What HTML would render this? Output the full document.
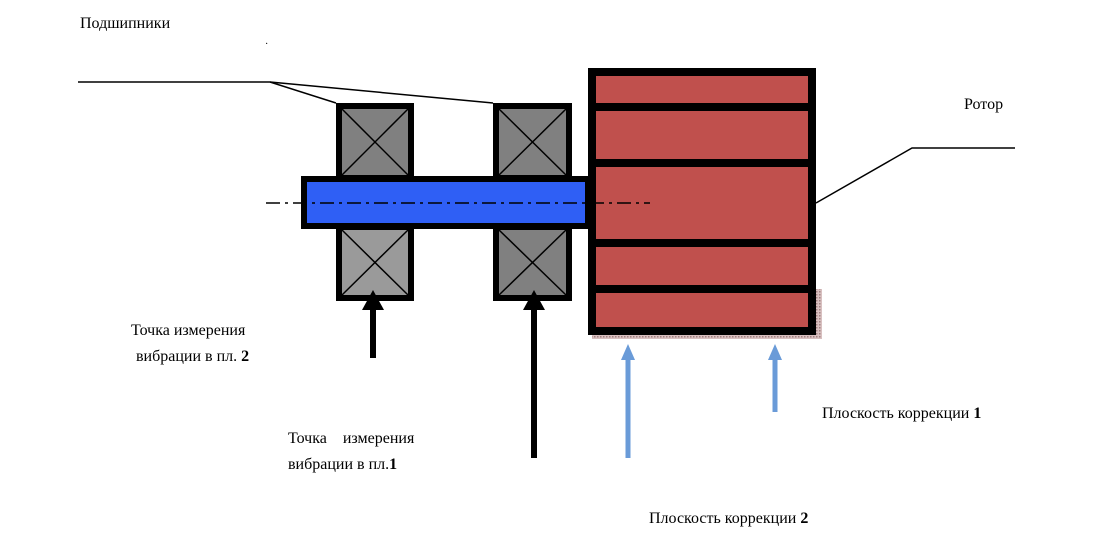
<!DOCTYPE html>
<html><head><meta charset="utf-8"><style>
html,body{margin:0;padding:0;background:#fff;}
svg text{font-family:"Liberation Serif",serif;font-size:16px;fill:#000;}
</style></head><body>
<svg width="1114" height="550" viewBox="0 0 1114 550" xmlns="http://www.w3.org/2000/svg">
<defs>
<pattern id="h" width="3" height="3" patternUnits="userSpaceOnUse"><rect width="3" height="3" fill="#d8c0c0"/><rect width="1.5" height="1.5" fill="#a08080"/></pattern>
</defs>
<!-- leaders -->
<polyline points="78,82 270,82 336,103" fill="none" stroke="#000" stroke-width="1.5"/>
<line x1="270" y1="82" x2="493" y2="103" stroke="#000" stroke-width="1.5"/>
<polyline points="816,203 912,148 1015,148" fill="none" stroke="#000" stroke-width="1.5"/>
<text x="80" y="28">Подшипники</text>
<text x="964" y="109">Ротор</text>
<!-- rotor shadow -->
<rect x="592" y="289" width="230" height="50" fill="url(#h)"/>
<!-- rotor -->
<rect x="592" y="72" width="220" height="259" fill="#c0504d" stroke="#000" stroke-width="8"/>
<g stroke="#000" stroke-width="8">
<line x1="592" y1="107" x2="812" y2="107"/>
<line x1="592" y1="163" x2="812" y2="163"/>
<line x1="592" y1="243" x2="812" y2="243"/>
<line x1="592" y1="289" x2="812" y2="289"/>
</g>
<!-- bearings -->
<g stroke="#000" stroke-width="6">
<rect x="339" y="106" width="72" height="72" fill="#808080"/>
<rect x="339" y="227" width="72" height="71" fill="#9a9a9a"/>
<rect x="496" y="106" width="73" height="72" fill="#808080"/>
<rect x="496" y="227" width="73" height="71" fill="#808080"/>
</g>
<g stroke="#000" stroke-width="1.5">
<line x1="342" y1="109" x2="408" y2="175"/><line x1="408" y1="109" x2="342" y2="175"/>
<line x1="342" y1="230" x2="408" y2="295"/><line x1="408" y1="230" x2="342" y2="295"/>
<line x1="499" y1="109" x2="566" y2="175"/><line x1="566" y1="109" x2="499" y2="175"/>
<line x1="499" y1="230" x2="566" y2="295"/><line x1="566" y1="230" x2="499" y2="295"/>
</g>
<!-- shaft -->
<rect x="304" y="179" width="284" height="47" fill="#2f5ff5" stroke="#000" stroke-width="6"/>
<line x1="266" y1="203" x2="650" y2="203" stroke="#000" stroke-width="1.5" stroke-dasharray="14,5,3,5"/>
<!-- black arrows -->
<line x1="373" y1="305" x2="373" y2="358" stroke="#000" stroke-width="6"/>
<polygon points="373,290 362,310 384,310" fill="#000"/>
<line x1="534" y1="305" x2="534" y2="458" stroke="#000" stroke-width="6"/>
<polygon points="534,290 523,310 545,310" fill="#000"/>
<!-- blue arrows -->
<line x1="628" y1="357" x2="628" y2="458" stroke="#6a9bd8" stroke-width="5"/>
<polygon points="628,344 621,360 635,360" fill="#6a9bd8"/>
<line x1="775" y1="357" x2="775" y2="412" stroke="#6a9bd8" stroke-width="5"/>
<polygon points="775,344 768,360 782,360" fill="#6a9bd8"/>
<!-- labels -->
<text x="131" y="335">Точка измерения</text>
<text x="136" y="361">вибрации в пл. <tspan font-weight="bold">2</tspan></text>
<text x="288" y="443">Точка&#160;&#160;&#160; измерения</text>
<text x="288" y="469">вибрации в пл.<tspan font-weight="bold">1</tspan></text>
<text x="822" y="418">Плоскость коррекции <tspan font-weight="bold">1</tspan></text>
<text x="649" y="523">Плоскость коррекции <tspan font-weight="bold">2</tspan></text>
<text x="265" y="47" style="font-size:10px">·</text>
</svg>
</body></html>
